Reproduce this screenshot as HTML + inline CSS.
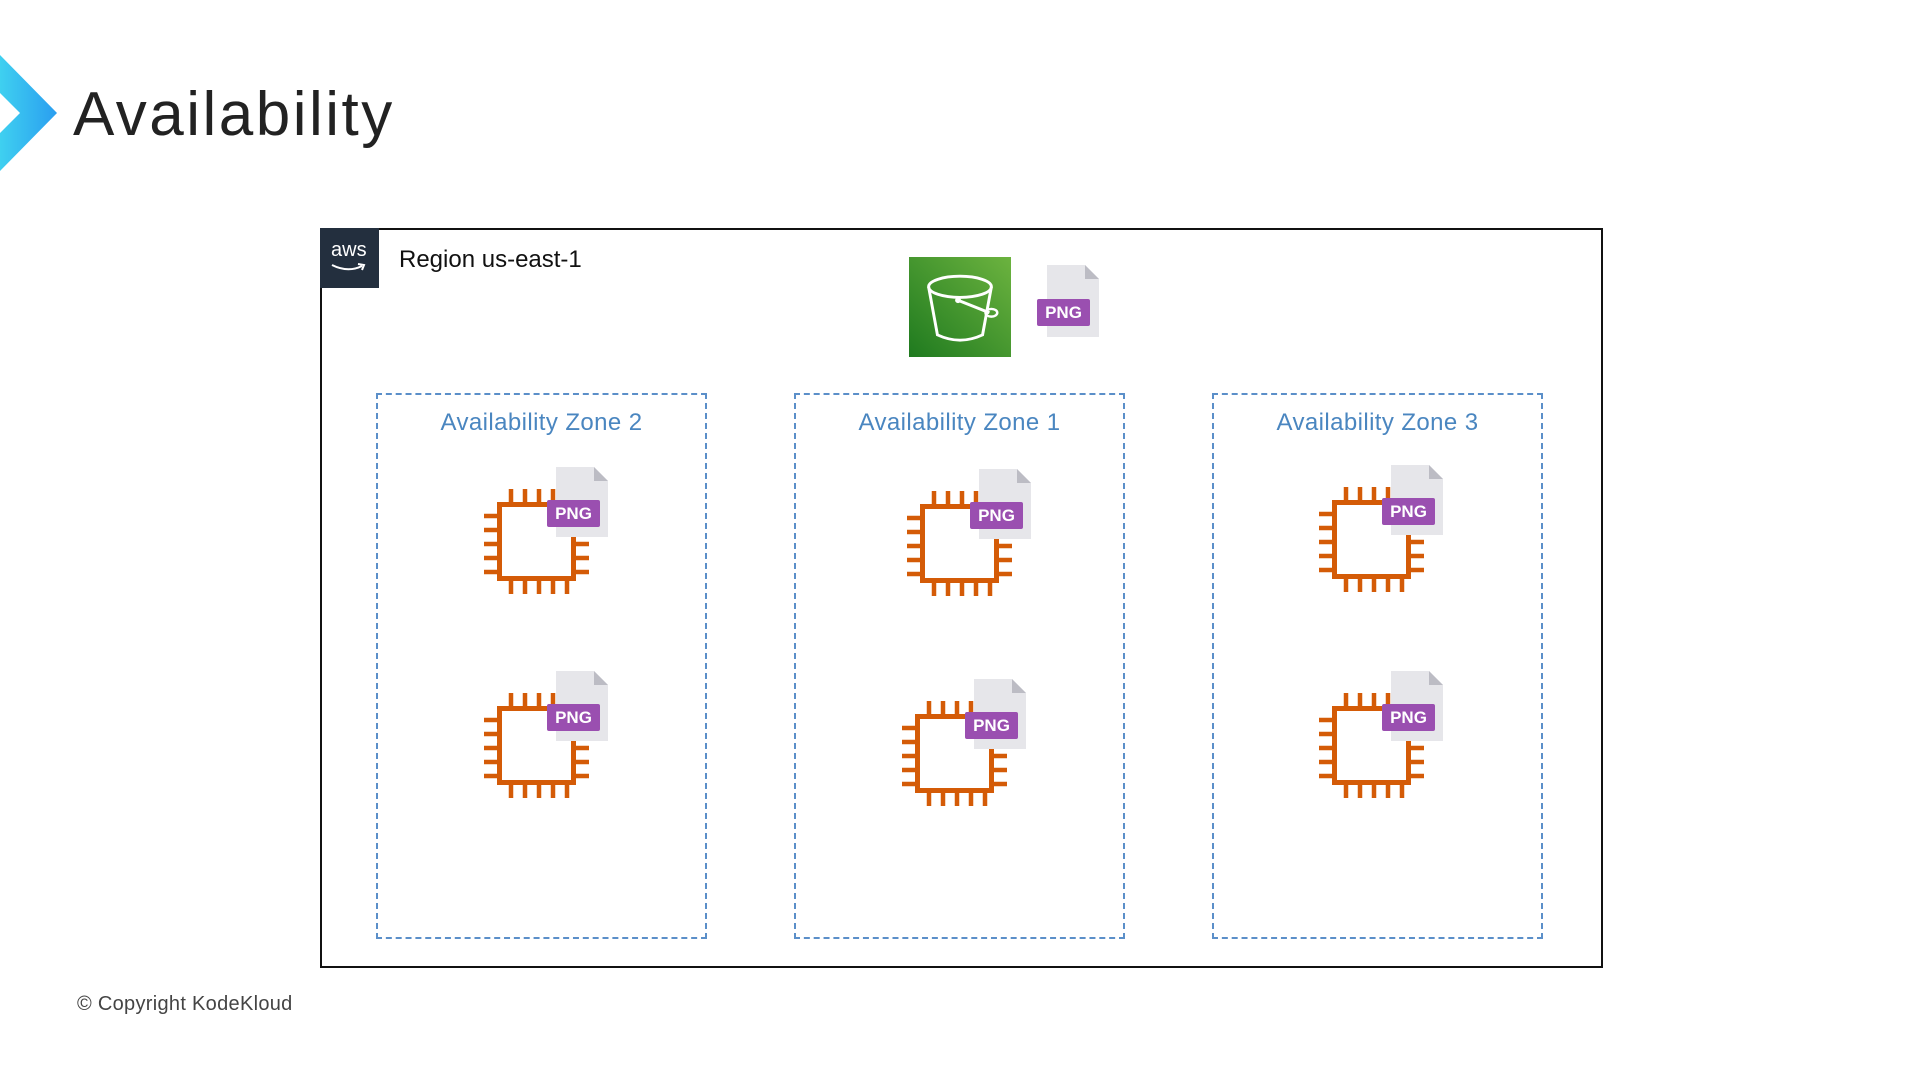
<!DOCTYPE html>
<html><head><meta charset="utf-8"><style>
body{margin:0;width:1920px;height:1080px;background:#fff;position:relative;overflow:hidden;font-family:"Liberation Sans",sans-serif}
.abs{position:absolute}
.zone{position:absolute;border:2px dashed #5b8fc9;box-sizing:border-box;top:393px;width:331px;height:546px}
.zl{position:absolute;top:409px;width:331px;text-align:center;color:#4a86c0;font-size:24px;letter-spacing:0.4px}
</style></head><body>
<svg class="abs" style="left:0;top:55px" width="60" height="120"><defs><linearGradient id="g" x1="0" x2="1"><stop offset="0" stop-color="#3fd0f0"/><stop offset="1" stop-color="#2a9ef0"/></linearGradient></defs><polygon points="0,0 57,58 0,116 0,78 20,58 0,38" fill="url(#g)"/></svg>
<div class="abs" style="left:73px;top:79px;font-size:62px;color:#222;letter-spacing:2.5px">Availability</div>
<div class="abs" style="left:320px;top:228px;width:1283px;height:740px;border:2px solid #111;box-sizing:border-box"></div>
<div class="abs" style="left:320px;top:228px;width:59px;height:60px;background:#232f3e"></div>
<div class="abs" style="left:331px;top:239px;color:#fff;font-size:20px">aws</div>
<svg class="abs" style="left:330px;top:262px" width="40" height="12"><path d="M2 3 Q18 11 32 4" stroke="#fff" stroke-width="2" fill="none"/><path d="M28 2 L34 3 L32 8" stroke="#fff" stroke-width="2" fill="none"/></svg>
<div class="abs" style="left:399px;top:246px;font-size:24px;color:#111">Region us-east-1</div>
<svg class="abs" style="left:909px;top:257px" width="102" height="100" viewBox="0 0 104 104" preserveAspectRatio="none"><defs><linearGradient id="s" x1="0" y1="1" x2="1" y2="0"><stop offset="0" stop-color="#1f7a1f"/><stop offset="1" stop-color="#6cb33f"/></linearGradient></defs><rect width="104" height="104" fill="url(#s)"/><ellipse cx="52" cy="31" rx="32" ry="11" fill="none" stroke="#fff" stroke-width="3"/><path d="M20 31 L29 81 Q52 92 75 81 L84 31" fill="none" stroke="#fff" stroke-width="3"/><circle cx="50" cy="45" r="3" fill="#fff"/><path d="M50 45 L82 58" stroke="#fff" stroke-width="3"/><ellipse cx="84" cy="58" rx="6" ry="4" fill="none" stroke="#fff" stroke-width="2.5"/></svg>
<svg class="abs" style="left:1037px;top:265px" width="64" height="74"><path d="M10 0 H48 L62 14 V72 H10 Z" fill="#e6e6ea"/><path d="M48 0 L62 14 H48 Z" fill="#bcbcc4"/><rect x="0" y="34" width="53" height="27" rx="2" fill="#9a4fb0"/><text x="26.5" y="53" text-anchor="middle" fill="#fff" font-size="17" font-weight="bold" font-family="Liberation Sans">PNG</text></svg>
<div class="zone" style="left:376px"></div><div class="zl" style="left:376px">Availability Zone 2</div>
<div class="zone" style="left:794px"></div><div class="zl" style="left:794px">Availability Zone 1</div>
<div class="zone" style="left:1212px"></div><div class="zl" style="left:1212px">Availability Zone 3</div>
<svg width="0" height="0" style="position:absolute"><defs>
<g id="chip"><rect x="16.5" y="37.5" width="74" height="74" fill="none" stroke="#d45b07" stroke-width="5"/>
<g stroke="#d45b07" stroke-width="4.5"><path d="M28 37V22M42 37V22M56 37V22M70 37V22"/><path d="M28 112V127M42 112V127M56 112V127M70 112V127M84 112V127"/><path d="M17 49H1M17 63H1M17 77H1M17 91H1M17 105H1"/><path d="M90 63H106M90 77H106M90 91H106M90 105H106"/></g>
<path d="M73 0 H111 L125 14 V70 H73 Z" fill="#e6e6ea"/><path d="M111 0 L125 14 H111 Z" fill="#bcbcc4"/><rect x="64" y="33" width="53" height="27" rx="2" fill="#9a4fb0"/><text x="90.5" y="52" text-anchor="middle" fill="#fff" font-size="17" font-weight="bold" font-family="Liberation Sans">PNG</text></g></defs></svg>
<svg class="abs" style="left:483px;top:467px" width="130" height="130"><use href="#chip"/></svg>
<svg class="abs" style="left:483px;top:671px" width="130" height="130"><use href="#chip"/></svg>
<svg class="abs" style="left:906px;top:469px" width="130" height="130"><use href="#chip"/></svg>
<svg class="abs" style="left:901px;top:679px" width="130" height="130"><use href="#chip"/></svg>
<svg class="abs" style="left:1318px;top:465px" width="130" height="130"><use href="#chip"/></svg>
<svg class="abs" style="left:1318px;top:671px" width="130" height="130"><use href="#chip"/></svg>
<div class="abs" style="left:77px;top:993px;font-size:20px;color:#444;letter-spacing:0.3px">© Copyright KodeKloud</div>
</body></html>
